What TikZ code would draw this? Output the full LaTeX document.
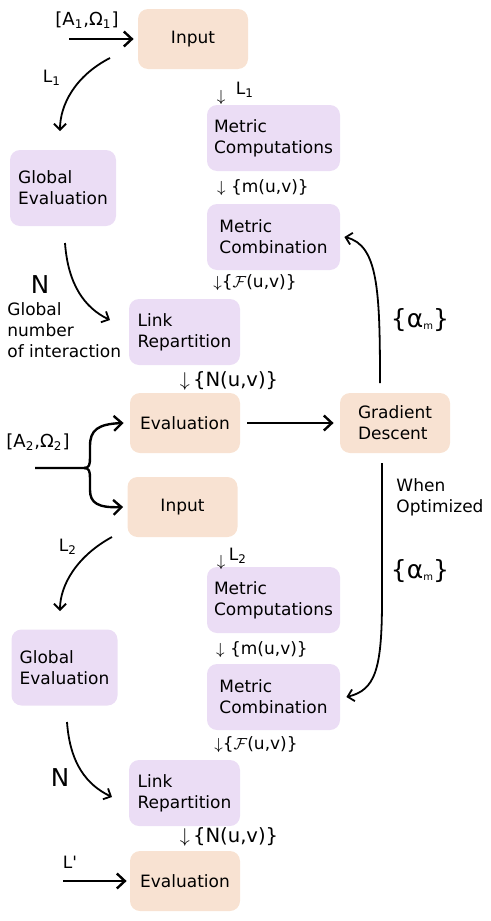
\documentclass[tikz,border=0pt]{standalone}
\usepackage{fontspec}
\setmainfont{DejaVu Sans}
\usepackage{tikz}
\usetikzlibrary{arrows.meta}
\definecolor{peach}{HTML}{F8E2D2}
\definecolor{lilac}{HTML}{EBDDF5}
\tikzset{box/.style={rectangle,rounded corners=5pt,align=left,inner sep=2pt}}
\tikzset{o/.style={box,fill=peach,minimum width=55pt,minimum height=30pt}}
\tikzset{p/.style={box,fill=lilac,minimum width=66.5pt,minimum height=33pt}}
\tikzset{t/.style={inner sep=0pt,align=left}}
\tikzset{big/.style={t,font=\fontsize{12.3}{14}\selectfont}}
\tikzset{mid/.style={t,font=\fontsize{9.8}{12}\selectfont}}
\tikzset{arr/.style={-{Straight Barb[length=4pt,width=7.5pt]},line width=1.2pt}}
\tikzset{arrc/.style={-{Straight Barb[length=3pt,width=6pt]},line width=0.9pt}}
\newcommand{\alm}{\{α\raisebox{-1pt}{\fontsize{5}{6}\selectfont m}\}}

\begin{document}
\begin{tikzpicture}[x=0.5pt,y=-0.5pt,font=\fontsize{8.5}{10.5}\selectfont]
\useasboundingbox (0,0) rectangle (491,921);
% first pass
\node[o](in1) at (193,39) {Input};
\node[p](mc1) at (273.5,138) {Metric\\Computations};
\node[p](mb1) at (273.5,237) {Metric\\Combination};
\node[p,minimum width=53pt,minimum height=38pt](ge1) at (63,188) {Global\\Evaluation};
\node[p,minimum width=55.5pt](lr1) at (184.5,332) {Link\\Repartition};
\node[o](ev1) at (185,423) {Evaluation};
\node[o](gd) at (395,423) {Gradient\\Descent};
% second pass
\node[o](in2) at (182.5,507) {Input};
\node[p](mc2) at (273.5,600) {Metric\\Computations};
\node[p](mb2) at (273.5,697) {Metric\\Combination};
\node[p,minimum width=53pt,minimum height=38pt](ge2) at (64.5,667.5) {Global\\Evaluation};
\node[p,minimum width=55.5pt](lr2) at (184.5,793) {Link\\Repartition};
\node[o](ev2) at (185,881) {Evaluation};

% labels
\node[t,font=\fontsize{9}{11}\selectfont](a1) at (87,20) {[A\textsubscript{1},Ω\textsubscript{1}]};
\node[t](l1) at (52,78) {L\textsubscript{1}};
\node[t](d1) at (221,97) {$\downarrow$};
\node[t](k1) at (245,90) {L\textsubscript{1}};
\node[t](m1) at (263,188) {$\downarrow$ \{m(u,v)\}};
\node[t](f1) at (255,283) {$\downarrow$\{$\mathcal{F}$(u,v)\}};
\node[big](n1) at (40,285) {N};
\node[t,anchor=west](gn) at (7,330) {Global\\number\\of interaction};
\node[mid](r1) at (229,381) {$\downarrow$\,\{N(u,v)\}};
\node[big,font=\fontsize{12.5}{14}\selectfont](al1) at (420,320) {\alm};
\node[t,font=\fontsize{9}{11}\selectfont](a2) at (38,442) {[A\textsubscript{2},Ω\textsubscript{2}]};
\node[t](wo) at (440,497) {When\\Optimized};
\node[big,font=\fontsize{12.5}{14}\selectfont](al2) at (420,571) {\alm};
\node[t](l2) at (68,547) {L\textsubscript{2}};
\node[t](d2) at (221,562) {$\downarrow$};
\node[t](k2) at (238,556) {L\textsubscript{2}};
\node[t](m2) at (262,650) {$\downarrow$ \{m(u,v)\}};
\node[t](f2) at (256,745) {$\downarrow$\{$\mathcal{F}$(u,v)\}};
\node[big](n2) at (60,778) {N};
\node[mid](r2) at (229,837) {$\downarrow$\,\{N(u,v)\}};
\node[t](l3) at (70,862) {L\textquotesingle};

% free ends
\coordinate (s1) at (69,39);
\coordinate (c1) at (110,58);
\coordinate (c2) at (60,131);
\coordinate (c3) at (65,243);
\coordinate (c4) at (110,320);
\coordinate (g1) at (380,383);
\coordinate (g2) at (382,463);
\coordinate (b0) at (35,468);
\coordinate (b1) at (84,468);
\coordinate (c5) at (112,537);
\coordinate (c6) at (60,611);
\coordinate (c7) at (67,722);
\coordinate (c8) at (112,797);
\coordinate (s2) at (63,881);

\draw[arr,shorten >=2pt] (s1) -- (in1);
\draw[arrc] (c1) .. controls (75,76) and (60,105) .. (c2);
\draw[arrc] (c3) .. controls (68,285) and (85,308) .. (c4);
\draw[arr,shorten <=3.5pt,shorten >=3pt] (ev1) -- (gd);
\draw[arrc] (g1) .. controls (380,290) and (378,245) .. ([xshift=2pt]mb1.east);
\draw[arrc] (g2) -- (382,600) .. controls (382,670) and (375,690) .. ([xshift=3pt]mb2.east);
\draw[arr] (b0) -- (b1) .. controls (89,468) and (90,465) .. (90,458) -- (90,446)
  .. controls (90,430) and (98,424) .. ([xshift=-3pt]ev1.west);
\draw[arr] (b1) .. controls (89,468) and (90,471) .. (90,478) -- (90,490)
  .. controls (90,503) and (98,508) .. ([xshift=-2pt]in2.west);
\draw[arrc] (c5) .. controls (77,556) and (60,585) .. (c6);
\draw[arrc] (c7) .. controls (70,764) and (87,785) .. (c8);
\draw[arr,shorten >=1.5pt] (s2) -- (ev2);
\end{tikzpicture}
\end{document}
